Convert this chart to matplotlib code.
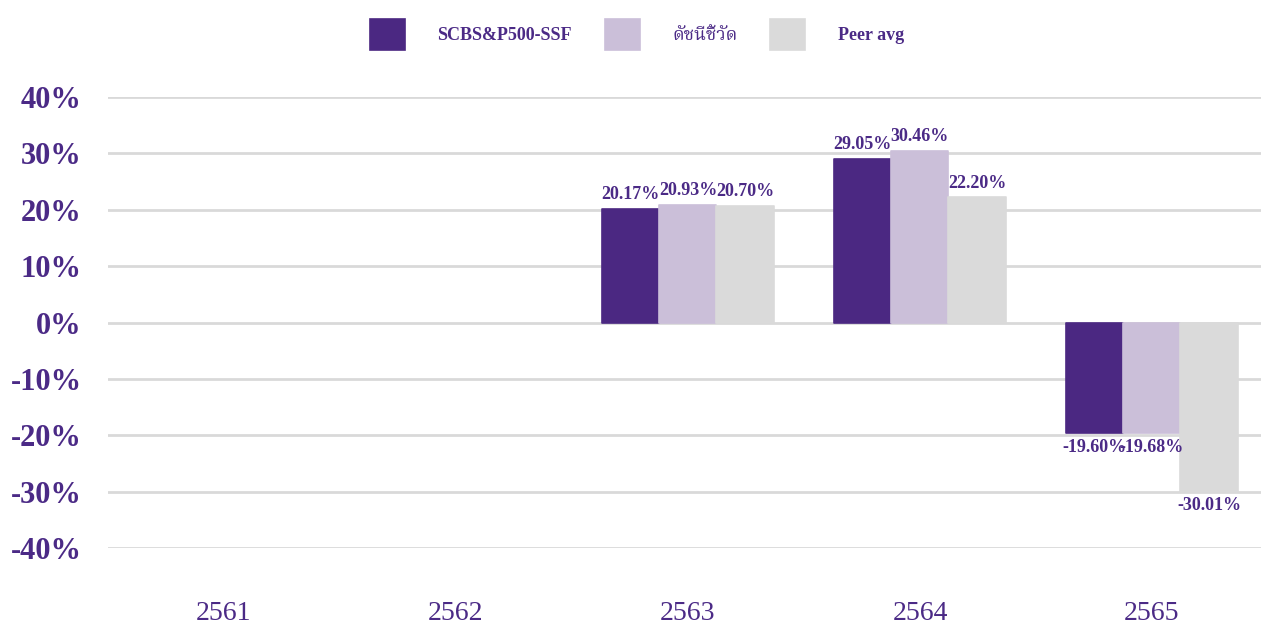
import numpy as np
import matplotlib.pyplot as plt

years = ['2561', '2562', '2563', '2564', '2565']
fund = [np.nan, np.nan, 20.17, 29.05, -19.60]
bench = [np.nan, np.nan, 20.93, 30.46, -19.68]
peer = [np.nan, np.nan, 20.70, 22.20, -30.01]
names = ['SCBS&P500-SSF', 'ดัชนีชี้วัด', 'Peer avg']
colors = ['#4b2882', '#cbbfd9', '#dadada']
yticks = [-40, -30, -20, -10, 0, 10, 20, 30, 40]

txt = '#4b2a86'
serif = ['Liberation Serif', 'Noto Serif Thai', 'Noto Sans Thai', 'Loma',
         'Garuda', 'Tlwg Typo', 'DejaVu Serif']
plt.rcParams['font.family'] = serif

fig = plt.figure(figsize=(12.61, 6.26), dpi=100)
ax = fig.add_axes([0.0856, 0.1246, 0.9144, 0.7204])

x = np.arange(len(years))
w = 0.246
for i, (vals, c, n) in enumerate(zip([fund, bench, peer], colors, names)):
    bars = ax.bar(x + (i - 1) * w, vals, w, color=c, label=n,
                  edgecolor=c, linewidth=1.2, joinstyle='round', zorder=3)
    labels = ['' if np.isnan(v) else f'{v:.2f}%' for v in vals]
    ax.bar_label(bars, labels=labels, padding=4, color=txt,
                 fontsize=13, fontweight='bold', zorder=4)

ax.set_ylim(-40, 40)
ax.set_xlim(-0.5, 4.47)
ax.set_yticks(yticks)
ax.set_yticklabels([f'{t}%' for t in yticks], fontsize=22,
                   fontweight='bold', color=txt)
ax.set_xticks(x)
ax.set_xticklabels(years, fontsize=20, color=txt)
ax.tick_params(length=0)
ax.tick_params(axis='y', pad=19)
ax.tick_params(axis='x', pad=38)
ax.grid(axis='y', color='#d9d9d9', linewidth=2, zorder=0)
for s in ax.spines.values():
    s.set_visible(False)

fig.legend(loc='upper center', bbox_to_anchor=(0.505, 0.995), ncol=3,
           frameon=False, prop={'size': 13, 'weight': 'bold'},
           labelcolor=txt, handlelength=1.95, handleheight=2.2,
           handletextpad=1.8, columnspacing=1.8)

fig.savefig('out.png', dpi=100)
